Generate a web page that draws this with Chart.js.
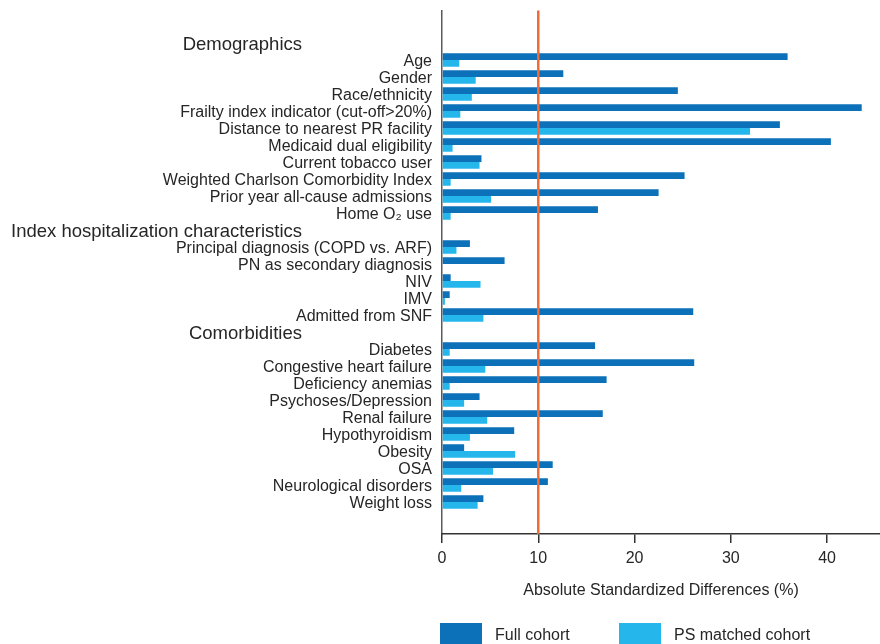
<!DOCTYPE html>
<html>
<head>
<meta charset="utf-8">
<title>Absolute standardized differences</title>
<script src="https://cdn.jsdelivr.net/npm/chart.js@4/dist/chart.umd.min.js"></script>
<style>
  html, body { margin: 0; padding: 0; background: #ffffff; overflow: hidden; }
  #wrap { position: relative; width: 880px; height: 644px; }
</style>
</head>
<body>
<div id="wrap"><canvas id="chart"></canvas></div>
<script>
// Rows of the chart, top to bottom; section headings are rows without bars.
const categories = [
  'Demographics',
  'Age',
  'Gender',
  'Race/ethnicity',
  'Frailty index indicator (cut-off>20%)',
  'Distance to nearest PR facility',
  'Medicaid dual eligibility',
  'Current tobacco user',
  'Weighted Charlson Comorbidity Index',
  'Prior year all-cause admissions',
  'Home O\u2082 use',
  'Index hospitalization characteristics',
  'Principal diagnosis (COPD vs. ARF)',
  'PN as secondary diagnosis',
  'NIV',
  'IMV',
  'Admitted from SNF',
  'Comorbidities',
  'Diabetes',
  'Congestive heart failure',
  'Deficiency anemias',
  'Psychoses/Depression',
  'Renal failure',
  'Hypothyroidism',
  'Obesity',
  'OSA',
  'Neurological disorders',
  'Weight loss'
];

const sectionHeaders = [
  'Demographics',
  'Index hospitalization characteristics',
  'Comorbidities'
];

// Absolute standardized differences (%)
const fullCohort = [
  null, 35.9, 12.6, 24.5, 43.6, 35.1, 40.4, 4.1, 25.2, 22.5, 16.2,
  null, 2.9, 6.5, 0.9, 0.8, 26.1,
  null, 15.9, 26.2, 17.1, 3.9, 16.7, 7.5, 2.3, 11.5, 11.0, 4.3
];

const psMatched = [
  null, 1.8, 3.5, 3.1, 1.9, 32.0, 1.1, 3.9, 0.9, 5.1, 0.9,
  null, 1.5, 0, 4.0, 0.3, 4.3,
  null, 0.8, 4.5, 0.8, 2.3, 4.7, 2.9, 7.6, 5.3, 2.0, 3.7
];

const seriesNames = ['Full cohort', 'PS matched cohort'];
const xTicks = [0, 10, 20, 30, 40];
const thresholdValue = 10;

const FONT = '"Liberation Sans", Arial, Helvetica, sans-serif';
const TEXT = '#262626';
const COLORS = ['#0c71b8', '#25b7ec'];

function toPoints(values) {
  const pts = [];
  values.forEach((v, i) => { if (v !== null) pts.push({ x: v, y: i }); });
  return pts;
}

// Section headings, drawn left of the item labels at their row position.
const sectionHeaderPlugin = {
  id: 'sectionHeaders',
  afterDraw(chart) {
    const y = chart.scales.y;
    const ctx = chart.ctx;
    ctx.save();
    ctx.font = '18.5px ' + FONT;
    ctx.fillStyle = TEXT;
    ctx.textAlign = 'right';
    ctx.textBaseline = 'middle';
    categories.forEach((c, i) => {
      if (sectionHeaders.includes(c)) {
        ctx.fillText(c, 302, y.getPixelForValue(i) + 1.5);
      }
    });
    ctx.restore();
  }
};

// Vertical reference line at the 10% threshold.
const thresholdPlugin = {
  id: 'threshold',
  afterDatasetsDraw(chart) {
    const x = chart.scales.x.getPixelForValue(thresholdValue);
    const area = chart.chartArea;
    const ctx = chart.ctx;
    ctx.save();
    ctx.strokeStyle = '#f26a36';
    ctx.lineWidth = 2.5;
    ctx.beginPath();
    ctx.moveTo(x, area.top);
    ctx.lineTo(x, area.bottom);
    ctx.stroke();
    ctx.restore();
  }
};

// Legend with wide swatches under the axis title.
const legendPlugin = {
  id: 'swatchLegend',
  afterDraw(chart) {
    const ctx = chart.ctx;
    const left = chart.chartArea.left;
    const offsets = [-2, 177];
    ctx.save();
    ctx.font = '16px ' + FONT;
    ctx.textBaseline = 'middle';
    ctx.textAlign = 'left';
    chart.data.datasets.forEach((ds, i) => {
      const bx = left + offsets[i];
      ctx.fillStyle = ds.backgroundColor;
      ctx.fillRect(bx, 623, 42, 30);
      ctx.fillStyle = TEXT;
      ctx.fillText(ds.label, bx + 55, 636);
    });
    ctx.restore();
  }
};

new Chart(document.getElementById('chart'), {
  type: 'bar',
  data: {
    datasets: [
      { label: seriesNames[0], data: toPoints(fullCohort), backgroundColor: COLORS[0] },
      { label: seriesNames[1], data: toPoints(psMatched), backgroundColor: COLORS[1] }
    ]
  },
  options: {
    indexAxis: 'y',
    responsive: true,
    maintainAspectRatio: false,
    animation: false,
    categoryPercentage: 0.79,
    barPercentage: 1.0,
    layout: { padding: { top: 10.5, right: 0, bottom: 0, left: 0 } },
    plugins: {
      legend: { display: false },
      tooltip: { enabled: false }
    },
    scales: {
      y: {
        type: 'linear',
        reverse: true,
        offset: false,
        min: -1.91,
        max: 28.88,
        grid: { display: false, drawTicks: false, offset: false },
        border: { display: true, color: '#5a5a5a', width: 1.5 },
        afterBuildTicks(scale) {
          scale.ticks = categories.map((_, i) => ({ value: i }));
        },
        afterFit(scale) {
          scale.width = 442;
          scale.paddingTop = 0;
          scale.paddingBottom = 0;
        },
        ticks: {
          autoSkip: false,
          padding: 10,
          labelOffset: 1.5,
          color: TEXT,
          font: { family: FONT, size: 16 },
          callback(value) {
            const c = categories[value];
            return sectionHeaders.includes(c) ? '' : c;
          }
        }
      },
      x: {
        type: 'linear',
        min: 0,
        max: 45.5,
        afterBuildTicks(scale) {
          scale.ticks = xTicks.map(v => ({ value: v }));
        },
        afterFit(scale) { scale.height = 110; },
        grid: { display: true, drawOnChartArea: false, tickLength: 9, color: '#333333', lineWidth: 1.5 },
        border: { display: true, color: '#333333', width: 1.5 },
        ticks: {
          padding: 6,
          color: TEXT,
          font: { family: FONT, size: 16 }
        },
        title: {
          display: true,
          text: 'Absolute Standardized Differences (%)',
          color: TEXT,
          font: { family: FONT, size: 16 },
          padding: { top: 0, bottom: 44 }
        }
      }
    }
  },
  plugins: [thresholdPlugin, sectionHeaderPlugin, legendPlugin]
});
</script>
</body>
</html>
